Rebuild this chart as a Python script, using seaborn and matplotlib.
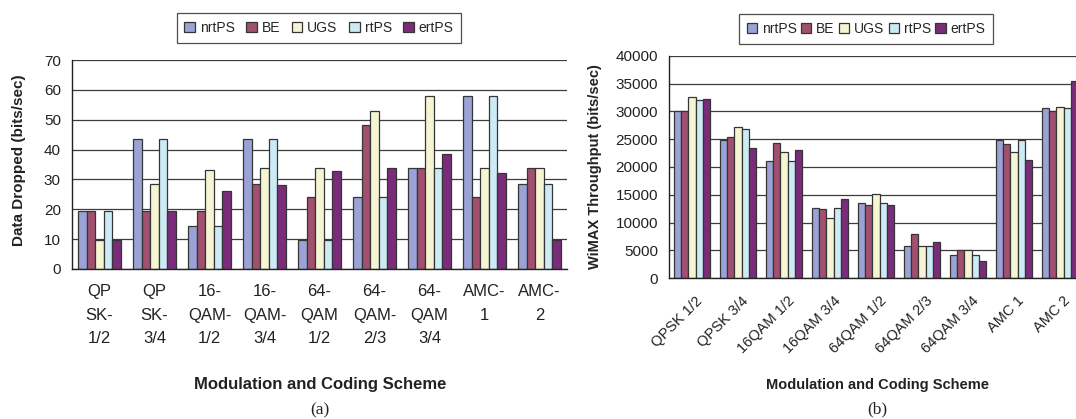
import numpy as np
import pandas as pd
import matplotlib
matplotlib.use("Agg")
import matplotlib.pyplot as plt
import matplotlib.transforms as mtransforms
from matplotlib.patches import Patch
from matplotlib.ticker import FixedLocator, MultipleLocator
import seaborn as sns

# ---- data -------------------------------------------------------------
services = ["nrtPS", "BE", "UGS", "rtPS", "ertPS"]

schemes_a = ["QP\nSK-\n1/2", "QP\nSK-\n3/4", "16-\nQAM-\n1/2", "16-\nQAM-\n3/4",
             "64-\nQAM\n1/2", "64-\nQAM-\n2/3", "64-\nQAM\n3/4", "AMC-\n1", "AMC-\n2"]
schemes_b = ["QPSK 1/2", "QPSK 3/4", "16QAM 1/2", "16QAM 3/4", "64QAM 1/2",
             "64QAM 2/3", "64QAM 3/4", "AMC 1", "AMC 2"]

# Data dropped (bits/sec)
dropped_nrtps = [19.4, 43.6, 14.3, 43.6, 9.7, 24.0, 33.8, 57.8, 28.6]
dropped_be    = [19.4, 19.4, 19.4, 28.6, 24.0, 48.1, 33.8, 24.0, 33.8]
dropped_ugs   = [9.7, 28.6, 33.2, 33.8, 33.8, 52.8, 57.8, 33.8, 33.8]
dropped_rtps  = [19.4, 43.6, 14.3, 43.6, 9.7, 24.0, 33.8, 57.8, 28.6]
dropped_ertps = [9.7, 19.4, 26.2, 28.2, 32.8, 33.8, 38.4, 32.2, 9.6]

# WiMAX throughput (bits/sec)
thr_nrtps = [30100, 24900, 21000, 12600, 13600, 5700, 4200, 24800, 30600]
thr_be    = [30100, 25400, 24300, 12400, 13100, 7900, 5000, 24200, 30100]
thr_ugs   = [32600, 27200, 22700, 10900, 15100, 5700, 5000, 22700, 30900]
thr_rtps  = [32100, 26900, 21000, 12600, 13600, 5700, 4200, 24800, 30600]
thr_ertps = [32300, 23500, 23000, 14300, 13100, 6400, 3000, 21300, 35500]

colors = ["#9AA2D6", "#A2506F", "#F6F5D3", "#CCEBF4", "#7A2C7A"]


def long_frame(schemes, series):
    rows = []
    for svc, vals in zip(services, series):
        for s, v in zip(schemes, vals):
            rows.append({"scheme": s, "service": svc, "value": v})
    return pd.DataFrame(rows)


df_a = long_frame(schemes_a, [dropped_nrtps, dropped_be, dropped_ugs, dropped_rtps, dropped_ertps])
df_b = long_frame(schemes_b, [thr_nrtps, thr_be, thr_ugs, thr_rtps, thr_ertps])

# ---- figure -----------------------------------------------------------
sns.set_style("white")
plt.rcParams["font.family"] = ["Liberation Sans", "DejaVu Sans"]

W, H = 1076, 419
fig = plt.figure(figsize=(W / 100, H / 100), dpi=100)


def px_axes(x0, x1, ytop, ybot):
    return fig.add_axes([x0 / W, 1 - ybot / H, (x1 - x0) / W, (ybot - ytop) / H])


ax_a = px_axes(72, 567, 60, 269)
ax_b = px_axes(669, 1083, 56, 278)

edge = "#353535"
for ax, df, order in ((ax_a, df_a, schemes_a), (ax_b, df_b, schemes_b)):
    sns.barplot(data=df, x="scheme", y="value", hue="service", order=order,
                hue_order=services, palette=colors, saturation=1, width=0.78,
                edgecolor=edge, linewidth=0.9, legend=False, ax=ax)
    ax.set_xlim(-0.5, len(order) - 0.5)
    ax.set_xlabel("")
    ax.set_ylabel("")
    ax.set_axisbelow(True)
    ax.yaxis.grid(True, color="#3c3c3c", linewidth=0.9)
    ax.xaxis.grid(False)
    for side in ("top", "right"):
        ax.spines[side].set_visible(False)
    for side in ("left", "bottom"):
        ax.spines[side].set_color("#222222")
        ax.spines[side].set_linewidth(1.0)
    # tick marks sit on the group boundaries, labels on the group centres
    ax.xaxis.set_minor_locator(FixedLocator(np.arange(-0.5, len(order), 1.0)))
    ax.tick_params(axis="x", which="minor", length=5, width=1.0, color="#222222", direction="out")
    ax.tick_params(axis="x", which="major", length=0)
    ax.tick_params(axis="y", length=5, width=1.0, color="#222222", direction="out",
                   labelsize=11, labelcolor="#222222", pad=3)

# left panel
ax_a.set_ylim(0, 70)
ax_a.yaxis.set_major_locator(MultipleLocator(10))
ax_a.set_xticks(range(len(schemes_a)))
ax_a.set_xticklabels(schemes_a, fontsize=12, linespacing=1.7, color="#222222")
ax_a.tick_params(axis="x", which="major", pad=11)

# right panel
ax_b.set_ylim(0, 40000)
ax_b.yaxis.set_major_locator(MultipleLocator(5000))
ax_b.set_xticks(range(len(schemes_b)))
ax_b.set_xticklabels(schemes_b, fontsize=10.5, rotation=45, ha="right",
                     rotation_mode="anchor", va="center", color="#222222")
ax_b.tick_params(axis="x", which="major", pad=15)
shift = mtransforms.ScaledTranslation(8 / 100, 0, fig.dpi_scale_trans)
for lab in ax_b.get_xticklabels():
    lab.set_transform(lab.get_transform() + shift)

# axis titles
fig.text(19 / W, 1 - 160 / H, "Data Dropped (bits/sec)", rotation=90, ha="center",
         va="center", fontsize=11, fontweight="bold", color="#222222")
fig.text(595 / W, 1 - 167 / H, "WiMAX Throughput (bits/sec)", rotation=90, ha="center",
         va="center", fontsize=10.5, fontweight="bold", color="#222222")
fig.text(320 / W, 1 - 384 / H, "Modulation and Coding Scheme", ha="center", va="center",
         fontsize=12, fontweight="bold", color="#222222")
fig.text(877 / W, 1 - 385 / H, "Modulation and Coding Scheme", ha="center", va="center",
         fontsize=10.5, fontweight="bold", color="#222222")
fig.text(320 / W, 1 - 410 / H, "(a)", ha="center", va="center", fontsize=12.5,
         family=["Liberation Serif", "DejaVu Serif"], color="#222222")
fig.text(877 / W, 1 - 409 / H, "(b)", ha="center", va="center", fontsize=12.5,
         family=["Liberation Serif", "DejaVu Serif"], color="#222222")

# legends
handles = [Patch(facecolor=c, edgecolor=edge, linewidth=0.9, label=s)
           for c, s in zip(colors, services)]
for cx, cy, colsp, fs in ((319, 28, 0.85, 10), (866, 29, 0.3, 10)):
    leg = fig.legend(handles=handles, loc="center", bbox_to_anchor=(cx / W, 1 - cy / H),
                     ncol=5, fontsize=fs, frameon=True, fancybox=False,
                     handlelength=0.75, handleheight=0.75, handletextpad=0.35,
                     columnspacing=colsp, borderpad=0.55)
    leg.get_frame().set_edgecolor("#222222")
    leg.get_frame().set_linewidth(0.9)

fig.savefig("out.png", dpi=100)
